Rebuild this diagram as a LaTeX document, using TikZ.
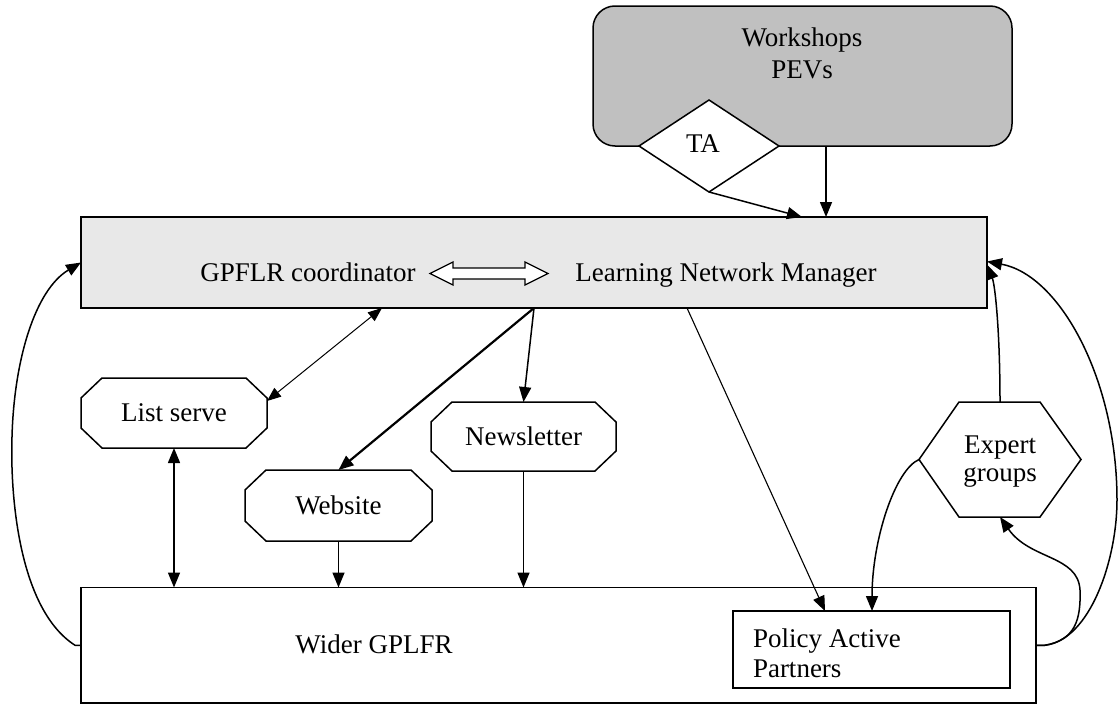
\documentclass[tikz,border=0pt]{standalone}
\usepackage{fontspec}
\setmainfont{Liberation Serif}
\usetikzlibrary{arrows.meta,calc,shapes.geometric}
\definecolor{wsgray}{HTML}{C0C0C0}
\definecolor{gbgray}{HTML}{E8E8E8}
\begin{document}
\begin{tikzpicture}[x=1pt,y=-1pt,
  every node/.style={font=\fontsize{27}{31}\selectfont, inner sep=0pt, outer sep=0pt},
  box/.style={draw, line width=1.5pt, rectangle, inner sep=0pt},
  shapebox/.style={rectangle, inner sep=0pt},
  ln/.style={line width=1.5pt, line join=miter},
  arr/.style={line width=1.5pt, -{Triangle[length=15pt,width=12pt]}},
  boldarr/.style={line width=2.2pt, -{Triangle[length=15pt,width=12pt]}},
  lightarr/.style={line width=1.1pt, -{Triangle[length=15pt,width=12pt]}},
  thinarr/.style={line width=1pt, {Triangle[length=14pt,width=11pt]}-{Triangle[length=14pt,width=11pt]}},
  dblarr/.style={line width=1.5pt, {Triangle[length=15pt,width=12pt]}-{Triangle[length=15pt,width=12pt]}},
  txt/.style={anchor=base},
]
\useasboundingbox (0,0) rectangle (1119,704);
\fill[white] (0,0) rectangle (1119,704);

% Workshops box and TA diamond
\node[box, fill=wsgray, rounded corners=22pt, minimum width=419, minimum height=140] (ws) at (802.5,76) {};
\node[txt] (wsa) at (802,46) {Workshops};
\node[txt] (wsb) at (802,78) {PEVs};
\node[draw, line width=1.5pt, fill=white, diamond, minimum width=140, minimum height=92, inner sep=0pt] (ta) at (709,146) {};
\node[txt] (tat) at (703,152) {TA};

% Central grey box
\node[box, fill=gbgray, minimum width=906, minimum height=91] (gb) at (534,262.5) {};
\node[txt] (gc) at (308,281) {GPFLR coordinator};
\node[txt] (lnm) at (726,281) {Learning Network Manager};
\draw[line width=1.3pt, fill=white] (430,273.5) -- (453,262) -- (453,268) -- (525,268) -- (525,262) -- (548,273.5) -- (525,285) -- (525,279) -- (453,279) -- (453,285) -- cycle;

% Octagon nodes
\node[shapebox, minimum width=186, minimum height=70] (ls) at (174,413) {List serve};
\node[shapebox, minimum width=187, minimum height=71] (web) at (338.5,505.5) {Website};
\node[shapebox, minimum width=185, minimum height=69] (nl) at (523.5,436.5) {Newsletter};
\foreach \n in {ls,web,nl}{
  \draw[ln] ($(\n.north west)+(21,0)$) -- ($(\n.north east)+(-21,0)$) -- ($(\n.north east)+(0,20)$)
    -- ($(\n.south east)+(0,-20)$) -- ($(\n.south east)+(-21,0)$) -- ($(\n.south west)+(21,0)$)
    -- ($(\n.south west)+(0,-20)$) -- ($(\n.north west)+(0,20)$) -- cycle;
}

% Expert groups hexagon
\node[shapebox, minimum width=162, minimum height=115] (eg) at (1000,459.5) {};
\draw[ln] (eg.west) -- ($(eg.north west)+(40,0)$) -- ($(eg.north east)+(-41,0)$) -- (eg.east)
  -- ($(eg.south east)+(-41,0)$) -- ($(eg.south west)+(40,0)$) -- cycle;
\node[txt] (ega) at (1000,453) {Expert};
\node[txt] (egb) at (1000,481) {groups};

% Wider GPLFR and Policy Active Partners
\node[box, minimum width=955, minimum height=115.5] (wider) at (558.5,645.25) {};
\node[txt] (wt) at (374,653) {Wider GPLFR};
\node[box, fill=white, minimum width=277, minimum height=77] (pap) at (871.5,649.5) {};
\node[anchor=base west] (pa1) at (753,647) {Policy Active};
\node[anchor=base west] (pa2) at (753,677) {Partners};

% Connectors
\draw[arr] ($(ws.south)+(23.5,0)$) -- ($(gb.north)+(292,0)$);
\draw[arr] (ta.south) -- ($(gb.north)+(268,0)$);
\draw[thinarr] ($(ls.north east)+(0,23)$) -- ($(gb.south)+(-152,0)$);
\draw[boldarr] (gb.south) -- (web.north);
\draw[arr] (gb.south) -- (nl.north);
\draw[lightarr] ($(gb.south)+(153,0)$) -- ($(pap.north)+(-46.5,0)$);
\draw[dblarr] (ls.south) -- (ls.south |- wider.north);
\draw[arr] (web.south) -- (web.south |- wider.north);
\draw[arr] (nl.south) -- (nl.south |- wider.north);
\draw[arr] (eg.north) .. controls (1000,330) and (995,285) .. ($(gb.east)+(0,2)$);
\draw[arr] (eg.west) .. controls (895,470) and (872,540) .. ($(pap.north)+(0.5,0)$);
\draw[arr] (wider.east) -- ++(9,0) .. controls (1075,640) and (1081,620) .. (1080,590)
  .. controls (1078,555) and (1030,560) .. (eg.south);
\draw[arr] (wider.east) -- ++(9,0) .. controls (1090,640) and (1117,560) .. (1117,500)
  .. controls (1117,380) and (1060,275) .. ($(gb.east)+(0,-1)$);
\draw[arr] (wider.west) -- ++(-6,0) .. controls (20,610) and (10,500) .. (12,437)
  .. controls (14,360) and (35,290) .. (gb.west);
\end{tikzpicture}
\end{document}
